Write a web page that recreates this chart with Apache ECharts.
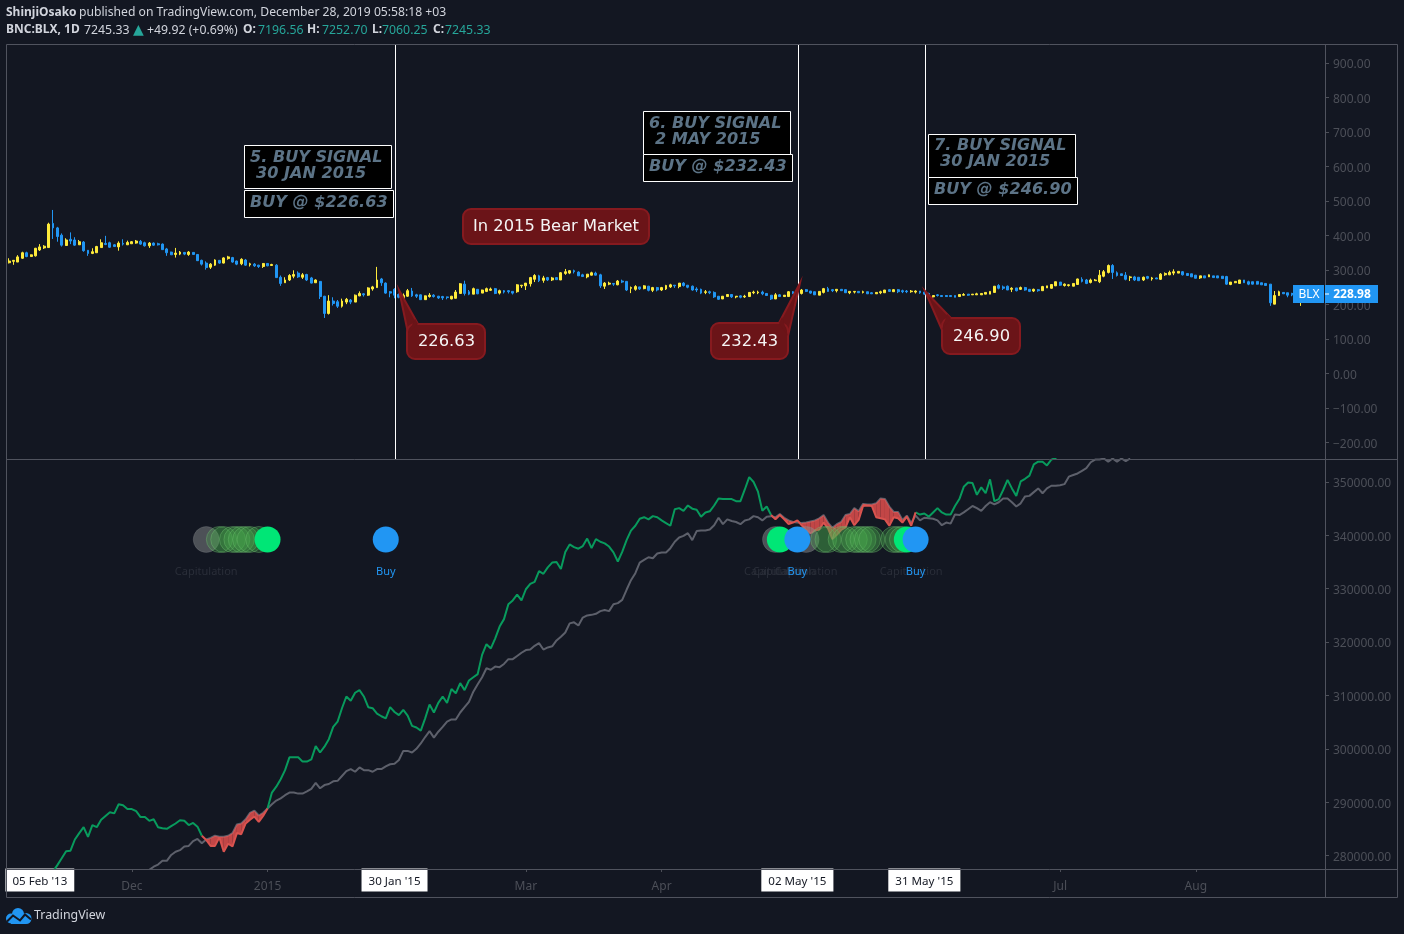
<!DOCTYPE html>
<html><head><meta charset="utf-8"><title>BLX</title>
<style>html,body{margin:0;padding:0;background:#131722}#c{width:1404px;height:934px}</style>
<script src="https://cdn.jsdelivr.net/npm/echarts@6/dist/echarts.min.js"></script></head>
<body><div id="c"></div><script>
const startDate = '2014-11-03';
const barCount = 301;
const opens = [321,325,323,334,350,339,341,358,364,365,
435,422,401,371,389,387,373,381,357,348,
350,365,377,379,373,367,377,373,376,378,
383,379,370,378,376,375,361,352,345,346,
351,345,351,345,328,320,308,314,328,320,
333,336,326,318,329,315,317,314,310,319,
313,314,279,263,271,282,291,279,287,277,
263,267,224,174,210,208,195,207,213,207,
225,231,227,245,249,274,262,237,244,229,
213,224,239,228,228,214,223,227,224,223,
222,216,218,232,259,237,230,244,233,238,
241,246,233,240,240,238,237,254,254,260,
273,283,270,278,271,278,271,290,291,298,
294,286,280,285,291,286,253,259,261,257,
268,267,247,244,251,246,253,241,249,242,
245,251,256,252,262,256,253,245,244,235,
237,235,224,216,223,229,222,225,222,223,
234,234,236,232,227,216,228,223,223,237,
240,232,243,239,237,227,235,246,243,240,
244,243,234,236,238,235,237,234,231,234,
234,243,237,243,240,239,237,236,239,236,
232,222,228,226,226,226,226,223,227,230,
228,228,228,230,230,235,255,251,253,244,
248,244,249,244,239,243,240,248,247,254,
265,255,255,253,258,273,271,264,269,266,
282,293,313,292,289,285,278,280,279,271,
281,274,277,273,286,286,291,291,295,290,
289,285,277,283,280,283,283,282,281,258,
263,261,271,266,266,267,263,261,259,201,
226,235,234,232,228,226];
const closes = [326,328,338,350,339,344,363,367,369,433,
422,397,372,387,384,372,382,356,348,353,
368,379,374,366,368,378,375,380,382,384,
375,370,378,372,373,359,350,344,349,352,
346,352,345,327,317,307,317,329,320,335,
338,323,317,331,314,318,312,310,319,312,
316,278,261,271,284,287,280,286,271,262,
271,223,174,210,203,195,210,215,207,227,
232,228,248,251,271,263,233,233,227,221,
227,240,225,224,214,225,227,223,219,219,
220,224,236,260,232,230,246,231,242,246,
245,232,240,236,237,233,257,256,262,278,
284,269,277,271,277,272,292,295,298,295,
283,281,288,292,285,254,262,262,259,268,
265,242,249,252,245,254,241,249,242,249,
255,257,254,262,255,250,242,242,233,237,
234,222,215,224,229,222,224,221,224,235,
236,236,231,226,216,228,223,227,237,231,
232.43,242,238,233,228,238,246,238,240,244,
240,234,238,238,234,237,231,231,235,237,
242,238,243,237,237,237,239,239,234,230,
227,226,226,223,223,223,221,229,229,227,
230,231,232,235,238,253,247,247,242,247,
240,249,242,238,244,240,252,254,258,266,
256,259,257,261,274,267,261,271,271,285,
295,313,293,284,284,273,280,271,269,279,
276,277,274,288,290,293,295,296,286,284,
280,276,283,277,286,278,277,275,259,265,
267,271,263,259,259,259,257,255,205,226,
237,231,227,228,232,228.98];
const lows = [319,315,323,332,337,338,339,355,361,365,
390,382,368,370,375,370,373,353,341,346,
350,365,372,364,367,356,371,373,376,376,
373,368,364,370,371,358,341,344,336,343,
343,341,345,326,313,301,303,312,318,319,
330,321,314,314,312,310,309,306,306,311,
312,277,254,263,268,276,277,274,268,261,
263,216,161,171,197,190,191,201,201,207,
224,223,225,240,248,254,231,221,218,218,
210,222,222,219,213,214,220,220,216,213,
215,215,218,232,226,227,230,230,233,236,
239,230,229,232,232,229,234,248,242,252,
265,265,263,268,268,272,271,286,288,290,
283,281,276,284,284,248,245,256,254,256,
262,239,233,240,242,244,238,236,238,239,
242,248,248,247,252,247,240,236,230,230,
230,219,213,216,223,219,218,218,219,223,
230,230,227,226,213,216,222,223,223,231,
230,229,236,231,228,227,232,237,236,235,
239,234,230,232,234,232,231,231,231,230,
234,237,237,233,233,233,234,232,231,228,
223,218,223,223,222,223,221,223,226,225,
228,228,228,230,230,234,244,242,242,236,
238,242,240,236,236,237,240,248,246,254,
254,252,252,253,257,264,259,261,269,262,
279,290,274,281,284,270,268,268,269,268,
273,269,274,271,283,285,285,291,284,284,
280,276,274,277,280,278,277,275,257,256,
262,261,263,256,258,258,257,255,196,201,
225,231,221,224,226,196];
const highs = [334,329,343,353,353,345,364,375,372,437,
474,425,406,392,409,395,387,384,358,363,
370,389,399,382,375,383,389,385,384,387,
387,382,381,380,379,377,364,353,364,355,
352,355,351,346,330,325,320,331,329,337,
341,338,327,334,332,321,320,315,320,320,
318,317,284,279,288,299,296,291,289,280,
273,268,225,227,221,213,217,219,216,229,
238,233,250,254,309,277,264,239,247,232,
232,245,248,231,229,226,233,230,225,225,
223,225,242,262,269,242,249,245,243,249,
249,248,243,242,242,238,259,256,262,280,
288,286,283,280,280,279,294,303,300,301,
296,289,288,295,295,289,265,266,261,271,
272,268,252,256,251,256,254,251,251,251,
257,260,256,262,265,256,255,250,246,242,
240,238,224,224,229,229,224,227,228,235,
240,240,240,232,227,233,230,227,239,239,
243,245,245,239,237,238,248,251,245,244,
244,243,238,238,238,240,237,236,235,240,
242,245,245,245,243,242,242,241,239,240,
234,226,230,226,227,226,226,229,233,230,
230,234,232,235,238,253,259,255,255,250,
248,252,251,245,246,245,254,254,259,266,
265,261,259,261,275,279,274,275,274,300,
300,316,317,296,289,294,283,283,279,281,
283,280,278,291,293,298,302,296,297,290,
289,285,283,283,287,283,283,282,283,265,
267,271,271,269,266,267,263,261,259,239,
240,235,234,234,234,233];

// Indicator lines; fastFrom / slowFrom give the bar index of the first reading.
const fastFrom = 10;
const fastLine = [277000,278200,279500,280800,280900,283000,284200,285300,283500,285700,
285300,286700,287400,288100,287900,289600,289400,288700,288700,288300,
287200,287200,286500,286800,285300,285100,285000,285500,286000,286600,
286500,285700,286100,285400,283700,282900,281800,281800,283400,280700,
282200,281700,284200,284000,286000,286700,287300,286300,287400,288800,
291800,292900,294300,296000,298400,298400,298400,297600,297600,298000,
300500,299300,300400,301800,304100,305100,307600,309800,309000,310500,
311000,309800,307800,307600,306600,306100,305700,307800,306900,306300,
307300,306200,304300,304000,303400,305700,308300,306800,308600,309800,308600,
311200,310400,312300,311000,312800,313400,314000,317600,319600,318800,
320700,322900,324300,327100,327800,328900,327800,329900,330900,331300,
333300,332800,334000,334900,335000,333700,336900,338300,337800,337500,
338000,339400,337600,339300,338800,338500,337900,336800,335100,336900,
339100,340900,341800,343100,343400,343000,343600,343400,342800,342300,
341800,344900,345100,344600,345600,345000,344800,343500,344300,344500,
345600,346900,346800,346800,346800,346400,346400,348600,350900,350000,
348200,344600,345400,343800,343000,343800,343000,342100,342400,342800,
341900,341000,340400,340900,341100,342400,341300,339300,340100,341000,
341500,343400,341900,342900,345500,345600,345500,343400,343200,343000,
341800,343400,343200,342400,343500,341800,
344300,343900,344100,343500,344300,345100,344300,343900,343900,345500,
346800,349100,349900,349800,347600,349000,347900,350500,346400,346800,
348500,350400,348800,347400,350100,350600,351200,353300,353800,353800,
353100,354200,354500,355500,356500];
const slowFrom = 31;
const slowLine = [276800,277300,277900,278300,279000,279000,280100,280700,281000,281700,
281800,282700,283100,282300,283000,283300,283700,283500,283500,283700,
284200,285800,286000,286800,288000,288400,287500,288000,288800,
289600,290300,290700,291300,291800,291800,291600,291600,292000,292500,
293600,292600,293200,293400,293900,294000,294900,295800,296200,295700,
296500,296000,296000,295700,296200,296200,296700,297100,297200,297900,
299600,299600,299300,300000,301000,302200,303300,302100,303200,304100,305100,
305500,305500,306800,307800,308800,310700,312100,313400,315100,314800,
315400,315300,315900,316800,316800,317400,318000,318500,318600,319300,
319800,318600,319000,319200,320300,321000,321800,323500,323700,323100,
324600,325000,325100,325300,325800,326000,325800,327100,327300,327900,
329800,331600,332900,334900,335400,335900,335700,336600,336800,336800,
337600,338800,339600,339900,340400,339100,340800,340900,340900,341100,
341900,343300,342100,343000,342700,342500,342100,342800,343000,343600,
343400,342800,343500,343600,
343400,344000,343300,342800,342500,342400,342300,342400,342600,342800,
343200,343800,342400,341400,342100,342500,343800,344000,345100,344500,
345900,345800,345800,346000,346900,346800,345400,344400,344400,342900,
343700,342300,
343700,342800,343300,343200,343100,342800,341900,342400,342200,343900,
343800,344300,344900,345500,345100,344600,345500,346200,345800,346200,
346900,346900,346200,345400,346000,347300,347400,348100,348800,347900,
348800,349300,349300,349400,349600,351000,351300,351600,352100,352600,
353700,354200,354200,354400,353800,354400,353800,354400,353900,354400];

// Signal markers (bar indexes) and the level they sit on.
const signalLevel = 339225;
const capGrey = [45,175,182];
const capGreen = [48,49,51,52,53,54,55,57,186,187,190,191,193,194,195,196,197,202,203,204];
const capBright = [59,176,205];
const buySignals = [86,180,207];
const capLabelBars = [45,175,177,182,206];

const priceTicks = [-200,-100,0,100,200,300,400,500,600,700,800,900];
const indicatorTicks = [280000,290000,300000,310000,320000,330000,340000,350000];
const signalBars = [88,180,209];
const timeLabels = {28:'Dec',59:'2015',118:'Mar',149:'Apr',240:'Jul',271:'Aug'};
const boxedTimeLabels = {7:"05 Feb '13",88:"30 Jan '15",180:"02 May '15",209:"31 May '15"};

const BG='#131722', FRAME='#50535e', AXIS='#4c4f58', UI='"Noto Sans",sans-serif', DJ='"DejaVu Sans",sans-serif';
const dates=[]; { const d=new Date(startDate+'T00:00:00Z');
  for(let i=0;i<barCount;i++){dates.push(d.toISOString().slice(0,10)); d.setUTCDate(d.getUTCDate()+1);} }
const at=(arr,from,i)=>{const v=arr[i-from]; return v===undefined?null:v;};
const fastAll=dates.map((_,i)=>at(fastLine,fastFrom,i));
const slowAll=dates.map((_,i)=>at(slowLine,slowFrom,i));
const both=i=>fastAll[i]!=null&&slowAll[i]!=null;
const below=i=>both(i)&&fastAll[i]<slowAll[i];
const fastGreen=fastAll.map((v,i)=>(v!=null&&!below(i))?v:null);
const fastRed=fastAll.map((v,i)=>(below(i)||below(i-1)||below(i+1))?v:null);
const bandData=[];
for(let i=0;i<barCount-1;i++){ if(both(i)&&both(i+1)&&(below(i)||below(i+1)))
  bandData.push([i,fastAll[i],slowAll[i],fastAll[i+1],slowAll[i+1]]); }
const candleData=opens.map((o,i)=>[o,closes[i],lows[i],highs[i]]);
const pts=(list)=>list.map(i=>[i,signalLevel]);
const fmtPrice=v=>'{v|'+(v<0?'\u2212'+Math.abs(v).toFixed(2):v.toFixed(2))+'}';
const priceRich={v:{color:AXIS,fontFamily:UI,fontSize:12,padding:[4,0,0,0]}};

const fill='#6b1418', edge='#861a1f', slate='#5c7386';
function noteBox(x,y,w,h){return {type:'rect',shape:{x:x+.5,y:y+.5,width:w,height:h},style:{fill:'#000',stroke:'#fff',lineWidth:1},z:50};}
function noteText(t,x,base){return {type:'text',x:x,y:base-12.5,z:51,style:{text:t,fill:slate,font:'italic bold 16.1px '+DJ}};}
function callout(x,y,w,h,tip,a,b,t,tx){return [
 {type:'polygon',shape:{points:[tip,a,b]},style:{fill:fill,stroke:edge,lineWidth:2},z:52},
 {type:'rect',shape:{x:x,y:y,width:w,height:h,r:8},style:{fill:fill,stroke:edge,lineWidth:2},z:53},
 {type:'polygon',shape:{points:[[tip[0]*.15+a[0]*.85,tip[1]*.15+a[1]*.85],a,b]},style:{fill:fill},z:54},
 {type:'text',x:tx,y:y+h/2+.5,z:55,style:{text:t,fill:'#f5f5f5',font:'16.3px '+DJ,align:'center',verticalAlign:'middle'}}
];}
const line=(x1,y1,x2,y2,c)=>({type:'line',shape:{x1,y1,x2,y2},style:{stroke:c||FRAME,lineWidth:1},z:40});
const head=(t,x,y,c,f)=>({type:'text',x,y,z:60,style:{text:t,fill:c,font:f}});
const N='12.3px '+UI, N1='12.17px '+UI, B='bold 12px '+UI, TX='#d1d4dc', TEAL='#26a69a';
const graphic=[
 line(6.5,44.5,1397.5,44.5),line(6.5,44.5,6.5,897.5),line(1397.5,44.5,1397.5,897.5),line(6.5,897.5,1397.5,897.5),
 line(1325.5,44.5,1325.5,897.5),line(6.5,459.5,1397.5,459.5),line(6.5,869.5,1397.5,869.5),
 head('ShinjiOsako',6,7,TX,B),head('published on TradingView.com, December 28, 2019 05:58:18 +03',79,7,TX,N1),
 head('BNC:BLX, 1D',6,24,TX,B),head('7245.33',84,24,TX,N),head('\u25B2',133,23,TEAL,'14px '+DJ),head('+49.92 (+0.69%)',147,24,TX,N),
 head('O:',243,24,TX,B),head('7196.56',258,24,TEAL,N),head('H:',307,24,TX,B),head('7252.70',322,24,TEAL,N),
 head('L:',372,24,TX,B),head('7060.25',382,24,TEAL,N),head('C:',433,24,TX,B),head('7245.33',445,24,TEAL,N),
 noteBox(244,145,147,43),noteBox(244,190,149,27),
 noteText('5. BUY SIGNAL',250,162),noteText('30 JAN 2015',256,178),noteText('BUY @ $226.63',250,207),
 noteBox(643,111,147,43),noteBox(643,154,149,27),
 noteText('6. BUY SIGNAL',649,128),noteText('2 MAY 2015',655,144),noteText('BUY @ $232.43',649,171),
 noteBox(928,134,147,43),noteBox(928,177,149,27),
 noteText('7. BUY SIGNAL',934,150),noteText('30 JAN 2015',940,166),noteText('BUY @ $246.90',934,194),
 {type:'rect',shape:{x:463,y:209,width:186,height:35,r:8},style:{fill:fill,stroke:edge,lineWidth:2},z:53},
 {type:'text',x:556,y:227,z:55,style:{text:'In 2015 Bear Market',fill:'#f5f5f5',font:'16.3px '+DJ,align:'center',verticalAlign:'middle'}},
 ...callout(407,324,78,35,[399,290],[418,324],[408,333],'226.63',446.5),
 ...callout(711,323,77,36,[800,283],[779,323],[788,336],'232.43',749.5),
 ...callout(942,318,78,36,[925,291],[951,318],[942,330],'246.90',981.5),
 {type:'rect',shape:{x:1293,y:285,width:31,height:18},style:{fill:'#2196f3'},z:56},
 {type:'rect',shape:{x:1325,y:285,width:53,height:18},style:{fill:'#2196f3'},z:56},
 {type:'line',shape:{x1:1325,y1:294,x2:1329,y2:294},style:{stroke:'#fff',lineWidth:1},z:57},
 {type:'text',x:1309,y:294.5,z:58,style:{text:'BLX',fill:'#fff',font:'12px '+UI,align:'center',verticalAlign:'middle'}},
 {type:'text',x:1352,y:294.5,z:58,style:{text:'228.98',fill:'#fff',font:'bold 12px '+UI,align:'center',verticalAlign:'middle'}},
 {type:'circle',z:60,shape:{cx:18,cy:914,r:6},style:{fill:'#2196f3'}},
 {type:'circle',z:60,shape:{cx:11,cy:918.5,r:5},style:{fill:'#2196f3'}},
 {type:'circle',z:60,shape:{cx:26,cy:918.5,r:5.5},style:{fill:'#2196f3'}},
 {type:'rect',z:60,shape:{x:11,y:918.5,width:15,height:5.5},style:{fill:'#2196f3'}},
 {type:'polyline',z:61,shape:{points:[[7,921.5],[13,915.5],[20,920.5],[25,914.5],[31,919.5]]},style:{stroke:BG,lineWidth:2,fill:'none'}},
 {type:'text',x:34,y:909,z:60,style:{text:'TradingView',fill:'#d1d4dc',font:'12.4px '+UI}}
];

const showTime=(i)=>timeLabels[i]!==undefined||boxedTimeLabels[i]!==undefined;
const option={
 backgroundColor:BG, animation:false, graphic,
 grid:[{left:7,top:44,width:1318,height:415},{left:7,top:459,width:1318,height:410}],
 xAxis:[
  {type:'category',gridIndex:0,data:dates,boundaryGap:true,axisLine:{show:false},axisTick:{show:false},axisLabel:{show:false},splitLine:{show:false}},
  {type:'category',gridIndex:1,data:dates,boundaryGap:true,axisLine:{show:false},
   axisTick:{show:true,length:3,lineStyle:{color:AXIS},alignWithLabel:true,interval:showTime},
   axisLabel:{interval:showTime,margin:4,hideOverlap:false,
    formatter:(v,i)=>boxedTimeLabels[i]?'{box|'+boxedTimeLabels[i]+'}':'{plain|'+(timeLabels[i]||'')+'}',
    rich:{box:{backgroundColor:'#fff',color:'#131722',fontFamily:UI,fontSize:11.6,padding:[7,7,4,7],lineHeight:14},
          plain:{color:AXIS,fontFamily:UI,fontSize:12,padding:[13,0,0,0],lineHeight:14}}}}
 ],
 yAxis:[
  {type:'value',gridIndex:0,position:'right',min:-247.8,max:955,scale:false,splitLine:{show:false},axisLine:{show:false},
   axisTick:{show:true,length:4,lineStyle:{color:AXIS},customValues:priceTicks},
   axisLabel:{margin:8,customValues:priceTicks,formatter:fmtPrice,rich:priceRich}},
  {type:'value',gridIndex:1,position:'right',min:277470,max:354310,splitLine:{show:false},axisLine:{show:false},
   axisTick:{show:true,length:4,lineStyle:{color:AXIS},customValues:indicatorTicks},
   axisLabel:{margin:8,customValues:indicatorTicks,formatter:fmtPrice,rich:priceRich}}
 ],
 series:[
  {type:'candlestick',name:'BLX',xAxisIndex:0,yAxisIndex:0,data:candleData,barWidth:2.4,silent:true,
   itemStyle:{color:'#ffeb3b',color0:'#2196f3',borderColor:'#ffeb3b',borderColor0:'#2196f3',borderWidth:1}},
  {type:'custom',name:'Signal lines',xAxisIndex:0,yAxisIndex:0,data:signalBars.map(i=>[i]),silent:true,z:5,encode:{x:0},
   renderItem:(p,api)=>{
     const x=Math.floor(api.coord([api.value(0),0])[0])+1.5;
     return {type:'line',shape:{x1:x,y1:p.coordSys.y,x2:x,y2:p.coordSys.y+p.coordSys.height},style:{stroke:'#fff',lineWidth:1}};
   }},
  {type:'line',name:'Slow',xAxisIndex:1,yAxisIndex:1,data:slowAll,showSymbol:false,lineStyle:{color:'#5d606b',width:2},silent:true,z:3},
  {type:'custom',name:'Band',xAxisIndex:1,yAxisIndex:1,data:bandData,silent:true,z:4,encode:{x:0,y:[1,2]},
   renderItem:(p,api)=>{
     const i=api.value(0),f0=api.value(1),s0=api.value(2),f1=api.value(3),s1=api.value(4);
     const P=(x,v)=>api.coord([x,v]); let poly;
     if(f0<s0&&f1<s1) poly=[P(i,f0),P(i,s0),P(i+1,s1),P(i+1,f1)];
     else { const t=(s0-f0)/((s0-f0)-(s1-f1)),xm=i+t,vm=f0+t*(f1-f0);
       poly=f0<s0?[P(i,f0),P(i,s0),P(xm,vm)]:[P(xm,vm),P(i+1,s1),P(i+1,f1)]; }
     return {type:'polygon',shape:{points:poly},style:{fill:'rgba(239,83,80,0.8)'}};
   }},
  {type:'line',name:'Fast',xAxisIndex:1,yAxisIndex:1,data:fastGreen,showSymbol:false,lineStyle:{color:'#089b5d',width:2},silent:true,z:5},
  {type:'line',name:'FastBelow',xAxisIndex:1,yAxisIndex:1,data:fastRed,showSymbol:false,lineStyle:{color:'#d9534f',width:2},silent:true,z:6},
  {type:'scatter',name:'Capitulation fading',xAxisIndex:1,yAxisIndex:1,data:pts(capGrey),symbolSize:26,silent:true,z:7,
   itemStyle:{opacity:1,color:'rgba(135,140,140,0.5)',borderColor:'rgba(160,165,170,0.2)',borderWidth:1}},
  {type:'scatter',name:'Capitulation',xAxisIndex:1,yAxisIndex:1,data:pts(capGreen),symbolSize:26,silent:true,z:8,
   itemStyle:{opacity:1,color:'rgba(76,175,80,0.28)',borderColor:'rgba(120,200,120,0.35)',borderWidth:1}},
  {type:'scatter',name:'Capitulation peak',xAxisIndex:1,yAxisIndex:1,data:pts(capBright),symbolSize:26,silent:true,z:9,
   itemStyle:{opacity:1,color:'#00e676'}},
  {type:'scatter',name:'Buy',xAxisIndex:1,yAxisIndex:1,data:pts(buySignals),symbolSize:26,silent:true,z:10,
   itemStyle:{opacity:1,color:'#2196f3'},
   label:{show:true,position:'bottom',distance:14,formatter:'Buy',color:'#2196f3',fontFamily:UI,fontSize:11}},
  {type:'scatter',name:'Capitulation text',xAxisIndex:1,yAxisIndex:1,data:pts(capLabelBars),symbolSize:26,silent:true,z:9,
   itemStyle:{opacity:1,color:'rgba(0,0,0,0)'},
   label:{show:true,position:'bottom',distance:14,formatter:'Capitulation',color:'#2a2e39',fontFamily:UI,fontSize:11}}
 ]
};
const chart=echarts.init(document.getElementById('c'));
chart.setOption(option);
</script></body></html>
